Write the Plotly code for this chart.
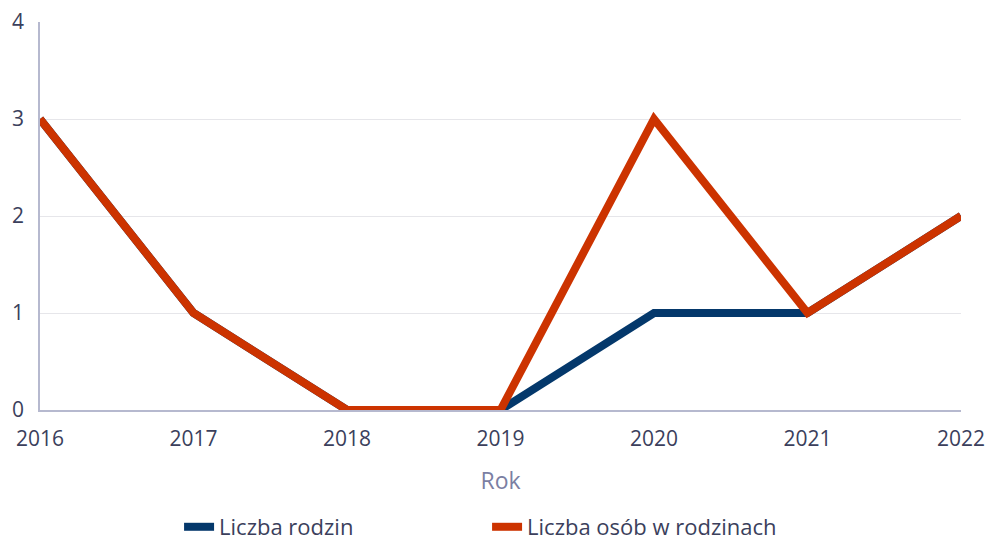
import plotly.graph_objects as go

years = [2016, 2017, 2018, 2019, 2020, 2021, 2022]
liczba_rodzin = [3, 1, 0, 0, 1, 1, 2]
liczba_osob = [3, 1, 0, 0, 3, 1, 2]
series_names = ["Liczba rodzin", "Liczba osób w rodzinach"]
colors = ["#04386b", "#cc3300"]

fig = go.Figure()
for name, vals, col in zip(series_names, [liczba_rodzin, liczba_osob], colors):
    fig.add_trace(go.Scatter(x=years, y=vals, mode="lines", name=name,
                             line=dict(color=col, width=8), hoverinfo="skip"))

font_color = "#3b3f5c"
fig.update_layout(
    width=985, height=542,
    margin=dict(l=40, r=24, t=22, b=132),
    paper_bgcolor="white", plot_bgcolor="white",
    font=dict(family="Open Sans", size=21, color=font_color),
    showlegend=True,
    legend=dict(orientation="h", x=0.151, xanchor="left",
                yref="container", y=0.0277, yanchor="middle",
                font=dict(size=22, color=font_color), entrywidth=263, itemwidth=30),
    xaxis=dict(range=[2016, 2022], tickvals=years, ticktext=[str(y) for y in years],
               showgrid=False, showline=True, linecolor="#b6b9cf", linewidth=1.5,
               ticks="", tickfont=dict(size=21, color=font_color), ticklabelstandoff=9,
               ticklabeloverflow="allow",
               title=dict(text="Rok", font=dict(size=23, color="#7b7fa3"), standoff=22),
               zeroline=False, automargin=False),
    yaxis=dict(range=[0, 4], tickvals=[0, 1, 2, 3, 4], showgrid=True, gridcolor="#e6e6ea",
               gridwidth=1, showline=True, linecolor="#b6b9cf", linewidth=1.5,
               ticks="", tickfont=dict(size=21, color=font_color), ticklabelstandoff=10,
               ticklabeloverflow="allow",
               zeroline=False, automargin=False),
)

fig.write_html("out.html", config={"displayModeBar": False},
               post_script="document.body.style.margin='0px';document.body.style.overflow='hidden';")
